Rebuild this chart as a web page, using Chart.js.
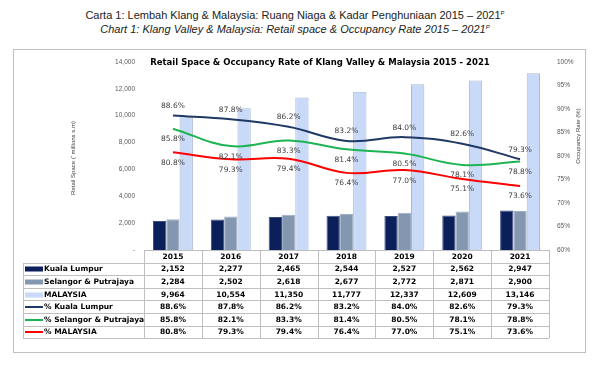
<!DOCTYPE html>
<html>
<head>
<meta charset="utf-8">
<script src="https://cdn.jsdelivr.net/npm/chart.js@4.4.0/dist/chart.umd.min.js"></script>
<style>
  body { margin:0; background:#fff; width:608px; height:371px; position:relative; overflow:hidden; font-family:"Liberation Sans", Arial, sans-serif; }
  .head { position:absolute; left:0; width:590px; text-align:center; color:#222; font-size:11px; line-height:13px; white-space:nowrap; }
  #h1 { top:9px; }
  #h2 { top:23px; font-style:italic; }
  sup { font-size:6px; vertical-align:4px; line-height:0; }
  #box { position:absolute; left:13px; top:49px; width:571px; height:302px; border:1px solid #bfbfbf; }
  #chart { position:absolute; left:13px; top:49px; }
</style>
</head>
<body>
<div class="head" id="h1">Carta 1: Lembah Klang &amp; Malaysia: Ruang Niaga &amp; Kadar Penghuniaan 2015 – 2021<sup>P</sup></div>
<div class="head" id="h2">Chart 1: Klang Valley &amp; Malaysia: Retail space &amp; Occupancy Rate 2015 – 2021<sup>P</sup></div>
<div id="box"></div>
<canvas id="chart" width="572" height="303"></canvas>
<script>
// data
const years = ['2015', '2016', '2017', '2018', '2019', '2020', '2021'];
const klSpace = [2152, 2277, 2465, 2544, 2527, 2562, 2947];
const selSpace = [2284, 2502, 2618, 2677, 2772, 2871, 2900];
const mySpace = [9964, 10554, 11350, 11777, 12337, 12609, 13146];
const klRate = [88.6, 87.8, 86.2, 83.2, 84.0, 82.6, 79.3];
const selRate = [85.8, 82.1, 83.3, 81.4, 80.5, 78.1, 78.8];
const myRate = [80.8, 79.3, 79.4, 76.4, 77.0, 75.1, 73.6];

const chartTitle = 'Retail Space & Occupancy Rate of Klang Valley & Malaysia 2015 - 2021';
const leftTitle = "Retail Space (' millions s.m)";
const rightTitle = 'Occupancy Rate (%)';

const tickFont = { family: 'Liberation Sans', size: 6.5 };
const tableFont = 'bold 7.5px "DejaVu Sans"';
const gridColor = '#bfbfbf';

// label offsets for the line series (px, negative = above the line)
const labelShift = { '% Kuala Lumpur': -9.5, '% Selangor & Putrajaya': 10.5, '% MALAYSIA': 10.5 };

const tablePlugin = {
  id: 'tablePlugin',
  afterDatasetsDraw(chart) {
    const ctx = chart.ctx;
    const area = chart.chartArea;
    ctx.save();

    // chart title inside plot
    ctx.fillStyle = '#000';
    ctx.font = 'bold 8.5px "DejaVu Sans"';
    ctx.textAlign = 'center';
    ctx.textBaseline = 'middle';
    ctx.fillText(chartTitle, 307, 14);

    // value labels on lines
    ctx.font = '7.5px "DejaVu Sans"';
    ctx.fillStyle = '#404040';
    chart.data.datasets.forEach((ds, i) => {
      if (ds.type !== 'line') return;
      const meta = chart.getDatasetMeta(i);
      meta.data.forEach((pt, j) => {
        ctx.fillText(ds.data[j].toFixed(1) + '%', pt.x, pt.y + labelShift[ds.label]);
      });
    });

    // axis titles
    ctx.font = '6px "Liberation Sans"';
    ctx.fillStyle = '#404040';
    ctx.save();
    ctx.translate(60, 109);
    ctx.rotate(-Math.PI / 2);
    ctx.fillText(leftTitle, 0, 0);
    ctx.restore();
    ctx.save();
    ctx.translate(565, 87);
    ctx.rotate(-Math.PI / 2);
    ctx.fillText(rightTitle, 0, 0);
    ctx.restore();

    ctx.restore();
  },
  afterDraw(chart) {
    const ctx = chart.ctx;
    const area = chart.chartArea;
    const xs = chart.scales.x;
    const colW = (area.right - area.left) / years.length;
    const rowH = 12.6;
    const top = area.bottom;
    const legLeft = 10;
    const order = ['Kuala Lumpur', 'Selangor & Putrajaya', 'MALAYSIA', '% Kuala Lumpur', '% Selangor & Putrajaya', '% MALAYSIA'];
    const rows = order.map(name => chart.data.datasets.find(d => d.label === name));
    const bottom = top + rowH * (rows.length + 1);

    ctx.save();
    ctx.strokeStyle = gridColor;
    ctx.lineWidth = 1;
    ctx.beginPath();
    // horizontal lines
    for (let r = 0; r <= rows.length + 1; r++) {
      const y = Math.round(top + r * rowH) + 0.5;
      ctx.moveTo(r === 0 ? area.left : legLeft, y);
      ctx.lineTo(area.right, y);
    }
    // vertical lines
    for (let c = 0; c <= years.length; c++) {
      const x = Math.round(area.left + c * colW) + 0.5;
      ctx.moveTo(x, top);
      ctx.lineTo(x, bottom);
    }
    ctx.moveTo(legLeft + 0.5, Math.round(top + rowH));
    ctx.lineTo(legLeft + 0.5, Math.round(bottom) + 0.5);
    ctx.stroke();

    ctx.font = tableFont;
    ctx.fillStyle = '#000';
    ctx.textBaseline = 'middle';
    ctx.textAlign = 'center';
    years.forEach((yr, c) => {
      ctx.fillText(yr, xs.getPixelForValue(c), top + rowH / 2 + 0.5);
    });

    rows.forEach((ds, r) => {
      const yc = top + (r + 1) * rowH + rowH / 2 + 0.5;
      // legend marker
      if (ds.type === 'line') {
        ctx.fillStyle = ds.borderColor;
        ctx.fillRect(legLeft + 2, Math.round(yc) - 1, 18, 2);
      } else {
        ctx.fillStyle = ds.backgroundColor;
        ctx.fillRect(legLeft + 2, Math.round(yc) - 2.5, 18, 5);
      }
      ctx.fillStyle = '#000';
      ctx.textAlign = 'left';
      ctx.fillText(ds.label, legLeft + 21, yc);
      ctx.textAlign = 'center';
      ds.data.forEach((v, c) => {
        const txt = ds.type === 'line' ? v.toFixed(1) + '%' : v.toLocaleString('en-US');
        ctx.fillText(txt, xs.getPixelForValue(c), yc);
      });
    });
    ctx.restore();
  }
};

const lineStyle = { type: 'line', yAxisID: 'y1', borderWidth: 2, pointRadius: 0, tension: 0.4, fill: false, order: 1 };
const barStyle = { type: 'bar', yAxisID: 'y', order: 2, barPercentage: 1, categoryPercentage: 0.69 };

new Chart(document.getElementById('chart'), {
  type: 'bar',
  data: {
    labels: years,
    datasets: [
      { ...barStyle, label: 'Kuala Lumpur', data: klSpace, backgroundColor: '#0b1f5b', borderColor: '#3a4d7d', borderWidth: 1 },
      { ...barStyle, label: 'Selangor & Putrajaya', data: selSpace, backgroundColor: '#8497b0', borderColor: '#9eafc4', borderWidth: 1 },
      { ...barStyle, label: 'MALAYSIA', data: mySpace, backgroundColor: '#c9daf8', borderColor: '#a9b8cf', borderWidth: 1 },
      { ...lineStyle, label: '% Kuala Lumpur', data: klRate, borderColor: '#1f3864' },
      { ...lineStyle, label: '% Selangor & Putrajaya', data: selRate, borderColor: '#1db553' },
      { ...lineStyle, label: '% MALAYSIA', data: myRate, borderColor: '#ff0000' }
    ]
  },
  options: {
    responsive: false,
    animation: false,
    layout: { padding: { top: 8, bottom: 102, left: 0, right: 0 } },
    plugins: { legend: { display: false }, tooltip: { enabled: false }, title: { display: false } },
    scales: {
      x: { display: false, offset: true },
      y: {
        position: 'left', min: 0, max: 14000,
        grid: { display: false, drawTicks: false }, border: { display: false },
        ticks: { stepSize: 2000, padding: 9, color: '#595959', font: tickFont,
          callback: v => v === 0 ? '-' : v.toLocaleString('en-US') },
        afterFit(scale) { scale.width = 131; }
      },
      y1: {
        position: 'right', min: 60, max: 100,
        grid: { display: false, drawTicks: false }, border: { display: false },
        ticks: { stepSize: 5, padding: 8, color: '#595959', font: tickFont, callback: v => v + '%' },
        afterFit(scale) { scale.width = 36; }
      }
    }
  },
  plugins: [tablePlugin]
});
</script>
</body>
</html>
